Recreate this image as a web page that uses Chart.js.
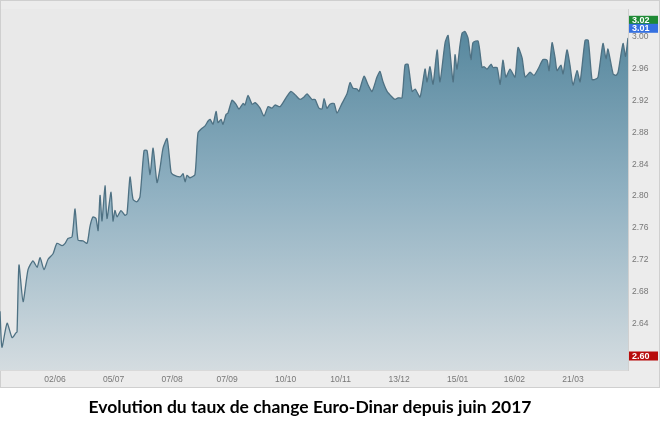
<!DOCTYPE html>
<html>
<head>
<meta charset="utf-8">
<script src="https://cdn.jsdelivr.net/npm/chart.js@4.4.1/dist/chart.umd.min.js"></script>
<style>
  html, body { margin: 0; padding: 0; background: #fff; }
  #wrap { width: 660px; height: 426px; }
</style>
</head>
<body>
<div id="wrap"><canvas id="graph_1" width="660" height="426"></canvas></div>
<script>
// days counted from 01/05/2017
let days = [1.0, 2.1, 5.0, 7.8, 10.0, 10.6, 11.7, 14.0, 16.8, 19.6, 21.9, 23.6, 25.8, 28.1, 30.9,
  33.1, 36.0, 37.7, 39.3, 41.6, 43.3, 45.0, 47.8, 50.1, 51.7, 53.4, 55.1, 56.3, 57.4, 58.5,
  60.2, 61.3, 63.6, 64.7, 65.8, 67.0, 69.2, 71.5, 72.6, 74.3, 76.0, 78.2, 79.9, 82.2, 83.9,
  85.6, 87.3, 89.5, 91.2, 92.9, 95.2, 97.4, 98.5, 102.5, 104.2, 105.3, 106.4, 108.1, 110.9,
  112.6, 114.9, 116.6, 118.3, 119.4, 121.1, 122.8, 123.9, 125.6, 126.7, 128.4, 129.5, 131.8,
  134.0, 135.7, 138.0, 139.1, 140.8, 143.1, 144.8, 147.6, 149.8, 152.1, 154.3, 156.0, 158.9,
  162.2, 165.0, 167.3, 170.1, 172.4, 174.1, 176.9, 178.6, 180.8, 182.5, 183.7, 185.3, 187.0,
  189.3, 191.0, 193.8, 196.6, 198.3, 200.0, 202.3, 203.4, 206.2, 208.5, 210.7, 213.5, 215.2,
  216.9, 219.2, 222.0, 223.7, 225.4, 227.6, 229.3, 231.0, 233.3, 235.0, 237.8, 240.6, 241.7,
  243.4, 245.1, 247.4, 249.0, 251.9, 253.6, 256.4, 257.5, 258.6, 260.3, 261.5, 263.1, 264.8,
  266.5, 267.6, 270.5, 272.7, 273.8, 275.5, 277.8, 278.9, 281.2, 282.9, 284.5, 286.2, 288.5,
  291.3, 293.0, 295.3, 297.0, 299.8, 302.0, 304.3, 307.1, 309.4, 310.5, 312.2, 313.9, 315.0,
  317.2, 318.4, 320.6, 322.3, 324.0, 326.3, 328.0, 330.8, 332.6, 334.7, 336.4, 338.1, 340.9,
  342.6, 343.7, 346.6, 348.2, 349.4, 352.2, 353.6, 355.0]

let rates = [2.656, 2.611, 2.641, 2.623, 2.629, 2.630, 2.714, 2.668, 2.708, 2.719, 2.711, 2.723, 2.708, 2.721, 2.728,
  2.741, 2.738, 2.741, 2.747, 2.749, 2.784, 2.745, 2.744, 2.741, 2.762, 2.774, 2.772, 2.757, 2.801, 2.769,
  2.813, 2.772, 2.805, 2.769, 2.782, 2.774, 2.782, 2.776, 2.778, 2.824, 2.796, 2.793, 2.799, 2.857, 2.857,
  2.827, 2.860, 2.817, 2.835, 2.860, 2.872, 2.830, 2.827, 2.824, 2.828, 2.818, 2.826, 2.823, 2.827,
  2.879, 2.885, 2.888, 2.894, 2.896, 2.890, 2.906, 2.892, 2.896, 2.890, 2.902, 2.904, 2.920,
  2.915, 2.909, 2.916, 2.914, 2.926, 2.915, 2.917, 2.910, 2.900, 2.912, 2.910, 2.914, 2.912,
  2.923, 2.931, 2.927, 2.921, 2.924, 2.928, 2.921, 2.921, 2.910, 2.909, 2.922, 2.910, 2.915,
  2.916, 2.904, 2.916, 2.928, 2.942, 2.935, 2.934, 2.931, 2.950, 2.939, 2.931, 2.949, 2.956,
  2.943, 2.931, 2.924, 2.921, 2.923, 2.923, 2.964, 2.965, 2.931, 2.934, 2.924, 2.959, 2.943,
  2.962, 2.940, 2.983, 2.943, 2.992, 3.001, 2.943, 2.977, 2.959, 2.989, 3.004, 3.006, 2.998,
  2.971, 2.992, 2.994, 2.961, 2.962, 2.959, 2.965, 2.961, 2.961, 2.940, 2.970, 2.949, 2.959,
  2.949, 2.986, 2.973, 2.949, 2.955, 2.951, 2.959, 2.971, 2.970, 2.957, 2.992, 2.973, 2.957,
  2.964, 2.953, 2.983, 2.964, 2.939, 2.957, 2.943, 2.995, 2.995, 2.946, 2.946, 2.949, 2.991,
  2.972, 2.984, 2.953, 2.951, 2.955, 2.991, 2.975, 2.998]

let tickDays = [32, 65, 98, 129, 162, 193, 226, 259, 291, 324]
let tickLabels = ['02/06', '05/07', '07/08', '07/09', '10/10', '10/11', '13/12', '15/01', '16/02', '21/03']
let yTicks = [2.60, 2.64, 2.68, 2.72, 2.76, 2.80, 2.84, 2.88, 2.92, 2.96, 3.00]

// price flags on the right axis
let flagValues = [3.02, 3.01, 2.60]
let flagColors = ['#1f8a35', '#3570e0', '#b80c0c']

let chartTitle = 'Evolution du taux de change Euro-Dinar depuis juin 2017'

const bgPlugin = {
  id: 'bgPlugin',
  beforeDraw(chart) {
    let c = chart.ctx
    let a = chart.chartArea
    c.save()
    c.fillStyle = '#ffffff'
    c.fillRect(0, 0, chart.width, chart.height)
    c.fillStyle = '#ececec'
    c.fillRect(0, 0, chart.width, 388)
    c.fillStyle = '#e9e9e9'
    c.fillRect(a.left, a.top, a.right - a.left, a.bottom - a.top)
    c.strokeStyle = '#cfcfcf'
    c.lineWidth = 1
    c.strokeRect(0.5, 0.5, chart.width - 1, 387)
    c.restore()
  },
  afterDraw(chart) {
    let c = chart.ctx
    let a = chart.chartArea
    let y = chart.scales.y
    c.save()
    c.font = 'bold 9px "Liberation Sans", Arial, sans-serif'
    c.textBaseline = 'middle'
    flagValues.forEach((v, i) => {
      let py = y.getPixelForValue(v)
      c.fillStyle = flagColors[i]
      c.fillRect(a.right + 1, py - 4.5, 29, 9)
      c.fillStyle = '#ffffff'
      c.fillText(v.toFixed(2), a.right + 4, py + 0.5)
    })
    // caption under the picture, a bit left of centre like the source
    c.font = 'bold 17.5px Lato, sans-serif'
    c.fillStyle = '#000000'
    c.textAlign = 'center'
    c.fillText(chartTitle, 310, 407)
    c.restore()
  }
}

const ctx = document.getElementById('graph_1')

new Chart(ctx, {
  type: 'line',
  data: {
    datasets: [{
      label: 'EUR/TND',
      data: days.map((d, i) => ({ x: d, y: rates[i] })),
      borderColor: '#4e7183',
      borderWidth: 1.3,
      pointRadius: 0,
      tension: 0.2,
      fill: 'start',
      backgroundColor: (context) => {
        let area = context.chart.chartArea
        if (!area) return '#8fb0c0'
        let g = context.chart.ctx.createLinearGradient(0, area.top, 0, area.bottom)
        g.addColorStop(0, '#4f8299')
        g.addColorStop(0.5, '#8fb0c1')
        g.addColorStop(1, '#d4dce0')
        return g
      }
    }]
  },
  options: {
    responsive: false,
    animation: false,
    layout: { padding: { bottom: 38 } },
    plugins: {
      legend: { display: false },
      tooltip: { enabled: false },
      title: { display: false }
    },
    scales: {
      x: {
        type: 'linear',
        min: 1,
        max: 355,
        afterFit: s => { s.height = 18 },
        afterBuildTicks: s => { s.ticks = tickDays.map(v => ({ value: v })) },
        grid: { display: false, drawTicks: false },
        border: { display: true, color: '#d9d9d9' },
        ticks: {
          padding: 5,
          maxRotation: 0,
          autoSkip: false,
          color: '#777777',
          font: { family: 'Liberation Sans', size: 8.5 },
          callback: (value, index) => tickLabels[index]
        }
      },
      y: {
        position: 'right',
        min: 2.5825,
        max: 3.034,
        afterFit: s => { s.width = 32 },
        afterBuildTicks: s => { s.ticks = yTicks.map(v => ({ value: v })) },
        grid: { display: false, drawTicks: false },
        border: { display: true, color: '#d0d0d0' },
        ticks: {
          padding: 4,
          color: '#777777',
          font: { family: 'Liberation Sans', size: 8.5 },
          callback: value => value.toFixed(2)
        }
      }
    }
  },
  plugins: [bgPlugin]
})
</script>
</body>
</html>
